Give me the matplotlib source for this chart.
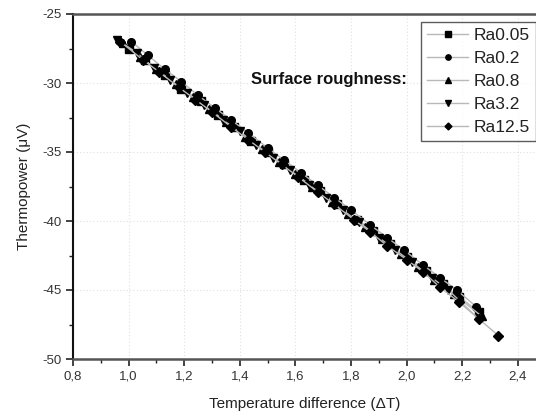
import matplotlib
matplotlib.use("Agg")
import matplotlib.pyplot as plt
from matplotlib.ticker import MultipleLocator, FuncFormatter

plt.rcParams['font.family'] = ['Liberation Sans', 'DejaVu Sans']

labels = ["Ra0.05", "Ra0.2", "Ra0.8", "Ra3.2", "Ra12.5"]
markers = ["s", "o", "^", "v", "D"]

x_ra005 = [1.00, 1.06, 1.13, 1.19, 1.26, 1.32, 1.38, 1.44, 1.50, 1.56, 1.63, 1.69, 1.75, 1.82, 1.88, 1.94, 2.00, 2.07, 2.13, 2.19, 2.26]
y_ra005 = [-27.5, -28.3, -29.4, -30.4, -31.3, -32.3, -33.2, -34.2, -35.0, -35.9, -37.0, -37.8, -38.8, -39.9, -40.7, -41.7, -42.6, -43.6, -44.6, -45.5, -46.6]

x_ra02 = [1.01, 1.07, 1.13, 1.19, 1.25, 1.31, 1.37, 1.43, 1.50, 1.56, 1.62, 1.68, 1.74, 1.80, 1.87, 1.93, 1.99, 2.06, 2.12, 2.18, 2.25]
y_ra02 = [-27.0, -28.0, -29.0, -29.9, -30.9, -31.8, -32.7, -33.6, -34.7, -35.6, -36.5, -37.4, -38.3, -39.2, -40.3, -41.2, -42.1, -43.2, -44.1, -45.0, -46.2]

x_ra08 = [0.98, 1.04, 1.10, 1.17, 1.23, 1.29, 1.35, 1.42, 1.48, 1.54, 1.60, 1.66, 1.73, 1.79, 1.85, 1.91, 1.98, 2.04, 2.10, 2.17, 2.27]
y_ra08 = [-27.1, -28.1, -29.0, -30.1, -31.0, -31.9, -32.8, -33.9, -34.8, -35.7, -36.6, -37.5, -38.6, -39.5, -40.4, -41.3, -42.4, -43.3, -44.3, -45.3, -46.9]

x_ra32 = [0.96, 1.03, 1.09, 1.15, 1.21, 1.27, 1.34, 1.40, 1.46, 1.52, 1.58, 1.65, 1.71, 1.77, 1.83, 1.90, 1.96, 2.02, 2.09, 2.15, 2.26]
y_ra32 = [-26.9, -27.8, -28.9, -29.8, -30.7, -31.6, -32.7, -33.5, -34.5, -35.4, -36.3, -37.4, -38.3, -39.2, -40.1, -41.2, -42.1, -43.0, -44.1, -45.0, -47.1]

x_ra125 = [0.97, 1.05, 1.11, 1.18, 1.24, 1.30, 1.37, 1.43, 1.49, 1.55, 1.61, 1.68, 1.74, 1.81, 1.87, 1.93, 2.00, 2.06, 2.12, 2.19, 2.26, 2.33]
y_ra125 = [-27.0, -28.3, -29.2, -30.3, -31.2, -32.1, -33.2, -34.1, -35.0, -35.9, -36.8, -37.9, -38.8, -39.9, -40.8, -41.8, -42.8, -43.7, -44.8, -45.9, -47.1, -48.3]

xs = [x_ra005, x_ra02, x_ra08, x_ra32, x_ra125]
ys = [y_ra005, y_ra02, y_ra08, y_ra32, y_ra125]

fig = plt.figure(figsize=(5.36, 4.16), dpi=100)
ax = fig.add_axes([73/536, 1 - 359/416, 1 - 73/536, (359 - 14)/416])

for x, y, m, lab in zip(xs, ys, markers, labels):
    ms = 5.5 if m != "D" else 5
    ax.plot(x, y, color="#b8b8b8", lw=1.0, marker=m, markersize=ms,
            markerfacecolor="black", markeredgecolor="black", label=lab, zorder=3)

ax.set_xlim(0.8, 0.8 + (536 - 73) / 278)
ax.set_ylim(-50, -25)
ax.xaxis.set_major_locator(MultipleLocator(0.2))
ax.xaxis.set_minor_locator(MultipleLocator(0.1))
ax.yaxis.set_major_locator(MultipleLocator(5))
ax.yaxis.set_minor_locator(MultipleLocator(2.5))
ax.xaxis.set_major_formatter(FuncFormatter(lambda v, p: f"{v:.1f}".replace(".", ",")))
ax.yaxis.set_major_formatter(FuncFormatter(lambda v, p: f"{v:.0f}"))

ax.tick_params(which="major", direction="out", length=5, width=1.2, labelsize=9.5,
               labelcolor="#333333", color="#222222")
ax.tick_params(which="minor", direction="out", length=3, width=1.0, color="#222222")

ax.grid(True, which="major", color="#e0e0e0", linestyle=(0, (1, 2)), lw=0.8)
ax.set_axisbelow(True)

ax.spines["left"].set_color("#111111")
ax.spines["left"].set_linewidth(1.5)
for side in ["top", "bottom"]:
    ax.spines[side].set_color("#555555")
    ax.spines[side].set_linewidth(1.8)
ax.spines["right"].set_visible(False)

ax.set_xlabel("Temperature difference (\u0394T)", fontsize=11, color="#222222", labelpad=10)
ax.set_ylabel("Thermopower (\u03bcV)", fontsize=11, color="#222222", labelpad=8)

ax.text(1.44, -29.74, "Surface roughness:", fontsize=12, fontweight="bold",
        ha="left", va="center", color="#111111")

leg = ax.legend(loc="upper right", bbox_to_anchor=(536/536, 1 - 22/416),
                bbox_transform=fig.transFigure, fontsize=12.5, frameon=True,
                fancybox=False, handlelength=2.4, handletextpad=0.3,
                borderpad=0.35, labelspacing=0.45, borderaxespad=0,
                markerscale=0.7)
leg.get_frame().set_edgecolor("#333333")
leg.get_frame().set_linewidth(1.0)
for t in leg.get_texts():
    t.set_color("#222222")

fig.savefig("out.png", dpi=100)
